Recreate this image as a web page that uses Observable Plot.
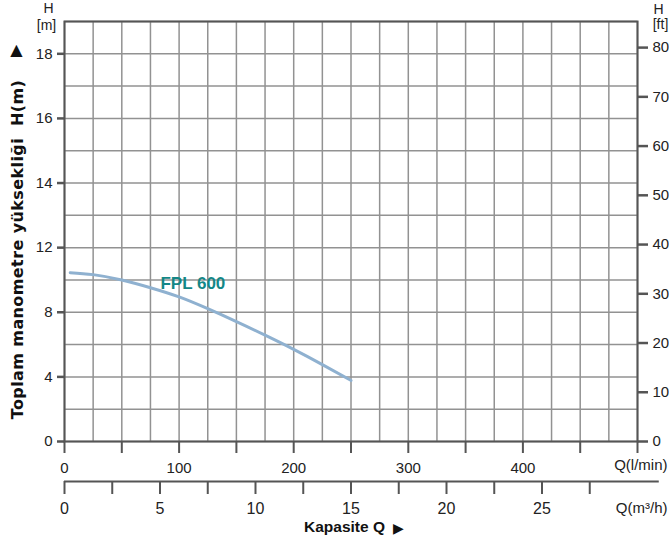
<!DOCTYPE html>
<html>
<head>
<meta charset="utf-8">
<script src="https://cdn.jsdelivr.net/npm/d3@7"></script>
<script src="https://cdn.jsdelivr.net/npm/@observablehq/plot@0.6"></script>
<style>
  html, body { margin: 0; padding: 0; background: #fff; }
</style>
</head>
<body>
<div id="chart"></div>
<script>
// ---- data ----
const seriesName = "FPL 600";
const qLmin = [5, 25, 50, 75, 100, 125, 150, 175, 200, 225, 250];
const headM = [10.45, 10.33, 10.0, 9.52, 8.95, 8.22, 7.42, 6.58, 5.7, 4.76, 3.78];

// ---- axis ticks / labels ----
const mTickValues = [0, 4, 8, 12, 16, 20, 24];
const mTickLabels = ["0", "4", "8", "12", "14", "16", "18"];
const ftTicks = [0, 10, 20, 30, 40, 50, 60, 70, 80];
const lminTicks = [0, 50, 100, 150, 200, 250, 300, 350, 400, 450, 500];
const lminLabels = [0, 100, 200, 300, 400];
const m3hTicks = [0, 2.5, 5, 7.5, 10, 12.5, 15, 17.5, 20, 22.5, 25, 27.5];
const m3hLabels = [0, 5, 10, 15, 20, 25];
const yTitle = "Toplam manometre yüksekliği  H(m)";
const xTitle = "Kapasite Q";

const FT = 0.3048;
const sans = "'Liberation Sans', Arial, sans-serif";
const data = qLmin.map((q, i) => ({q, h: headM[i]}));
const mLabelMap = new Map(mTickValues.map((v, i) => [v, mTickLabels[i]]));
const mid = {textAnchor: "middle", lineAnchor: "middle"};

const chart = Plot.plot({
  width: 669,
  height: 547,
  marginLeft: 64,
  marginRight: 32,
  marginTop: 21,
  marginBottom: 106,
  style: {fontFamily: sans, fontSize: "15px", color: "#222", background: "#fff"},
  x: {domain: [0, 500]},
  y: {domain: [0, 26]},
  marks: [
    Plot.gridX(d3.range(0, 501, 25), {stroke: "#929292", strokeOpacity: 1, strokeWidth: 1.5}),
    Plot.gridY(d3.range(0, 27, 2), {stroke: "#929292", strokeOpacity: 1, strokeWidth: 1.5}),
    Plot.frame({stroke: "#555", strokeWidth: 2}),
    // left metres axis
    Plot.axisY(mTickValues, {anchor: "left", tickSize: 7, tickPadding: 5, stroke: "#555", strokeWidth: 2.5, fill: "#222",
      tickFormat: d => mLabelMap.get(d), label: null, fontSize: 15}),
    // right feet axis
    Plot.axisY(ftTicks.map(f => f * FT), {anchor: "right", tickSize: 10, tickPadding: 5, stroke: "#555", strokeWidth: 2.5, fill: "#222",
      tickFormat: d => String(Math.round(d / FT)), label: null, fontSize: 15}),
    // l/min axis
    Plot.axisX(lminTicks, {anchor: "bottom", tickSize: 12, tickPadding: 9, stroke: "#555", strokeWidth: 2, fill: "#222",
      tickFormat: d => lminLabels.includes(d) ? String(d) : "", label: null, fontSize: 15}),
    // m3/h axis
    Plot.ruleY([0], {x1: 0, x2: 519, dy: 40, stroke: "#555", strokeWidth: 2}),
    Plot.axisX(m3hTicks.map(v => v * 1000 / 60), {anchor: "bottom", dy: 40, tickSize: 13, tickPadding: 8, stroke: "#555", strokeWidth: 2, fill: "#222",
      tickFormat: d => { const v = Math.round(d * 0.06 * 10) / 10; return m3hLabels.includes(v) ? String(v) : ""; }, label: null, fontSize: 16}),
    // curve
    Plot.line(data, {x: "q", y: "h", curve: "natural", stroke: "#8fb1d0", strokeWidth: 3}),
    Plot.text([seriesName], {x: 112, y: 9.8, text: d => d, fill: "#138787", fontWeight: "bold", fontSize: 17}),
    // unit labels
    Plot.text(["H"], {frameAnchor: "top-left", ...mid, dx: -16, dy: -13, text: d => d, fontSize: 14, fill: "#222"}),
    Plot.text(["[m]"], {frameAnchor: "top-left", ...mid, dx: -18, dy: 4, text: d => d, fontSize: 14, fill: "#222"}),
    Plot.text(["H"], {frameAnchor: "top-right", ...mid, dx: 21, dy: -12, text: d => d, fontSize: 14, fill: "#222"}),
    Plot.text(["[ft]"], {frameAnchor: "top-right", ...mid, dx: 23, dy: 3, text: d => d, fontSize: 14, fill: "#222"}),
    Plot.text(["Q(l/min)"], {frameAnchor: "bottom-right", textAnchor: "end", lineAnchor: "middle", dx: 30, dy: 24, text: d => d, fontSize: 15, fill: "#222"}),
    Plot.text(["Q(m³/h)"], {frameAnchor: "bottom-right", textAnchor: "end", lineAnchor: "middle", dx: 30, dy: 67, text: d => d, fontSize: 15, fill: "#222"}),
    // titles
    Plot.text([yTitle], {frameAnchor: "left", ...mid, rotate: -90, dx: -47, dy: 18, text: d => d, fontWeight: "bold", fontSize: 16,
      fontFamily: "'DejaVu Sans', Verdana, sans-serif", fill: "#111"}),
    Plot.text(["▲"], {frameAnchor: "top-left", ...mid, dx: -48, dy: 28, text: d => d, fontSize: 16, fill: "#111",
      fontFamily: "'DejaVu Sans', sans-serif"}),
    Plot.text([xTitle], {frameAnchor: "bottom", ...mid, dx: -6.5, dy: 86, text: d => d, fontWeight: "bold", fontSize: 15.5, fill: "#111"}),
    Plot.text(["▶"], {frameAnchor: "bottom", ...mid, dx: 47.5, dy: 87, text: d => d, fontSize: 14, fill: "#111",
      fontFamily: "'DejaVu Sans', sans-serif"})
  ]
});
d3.select(chart).selectAll("text").filter(function() { return this.textContent === yTitle; }).attr("letter-spacing", "0.4");
document.getElementById("chart").appendChild(chart);
</script>
</body>
</html>
